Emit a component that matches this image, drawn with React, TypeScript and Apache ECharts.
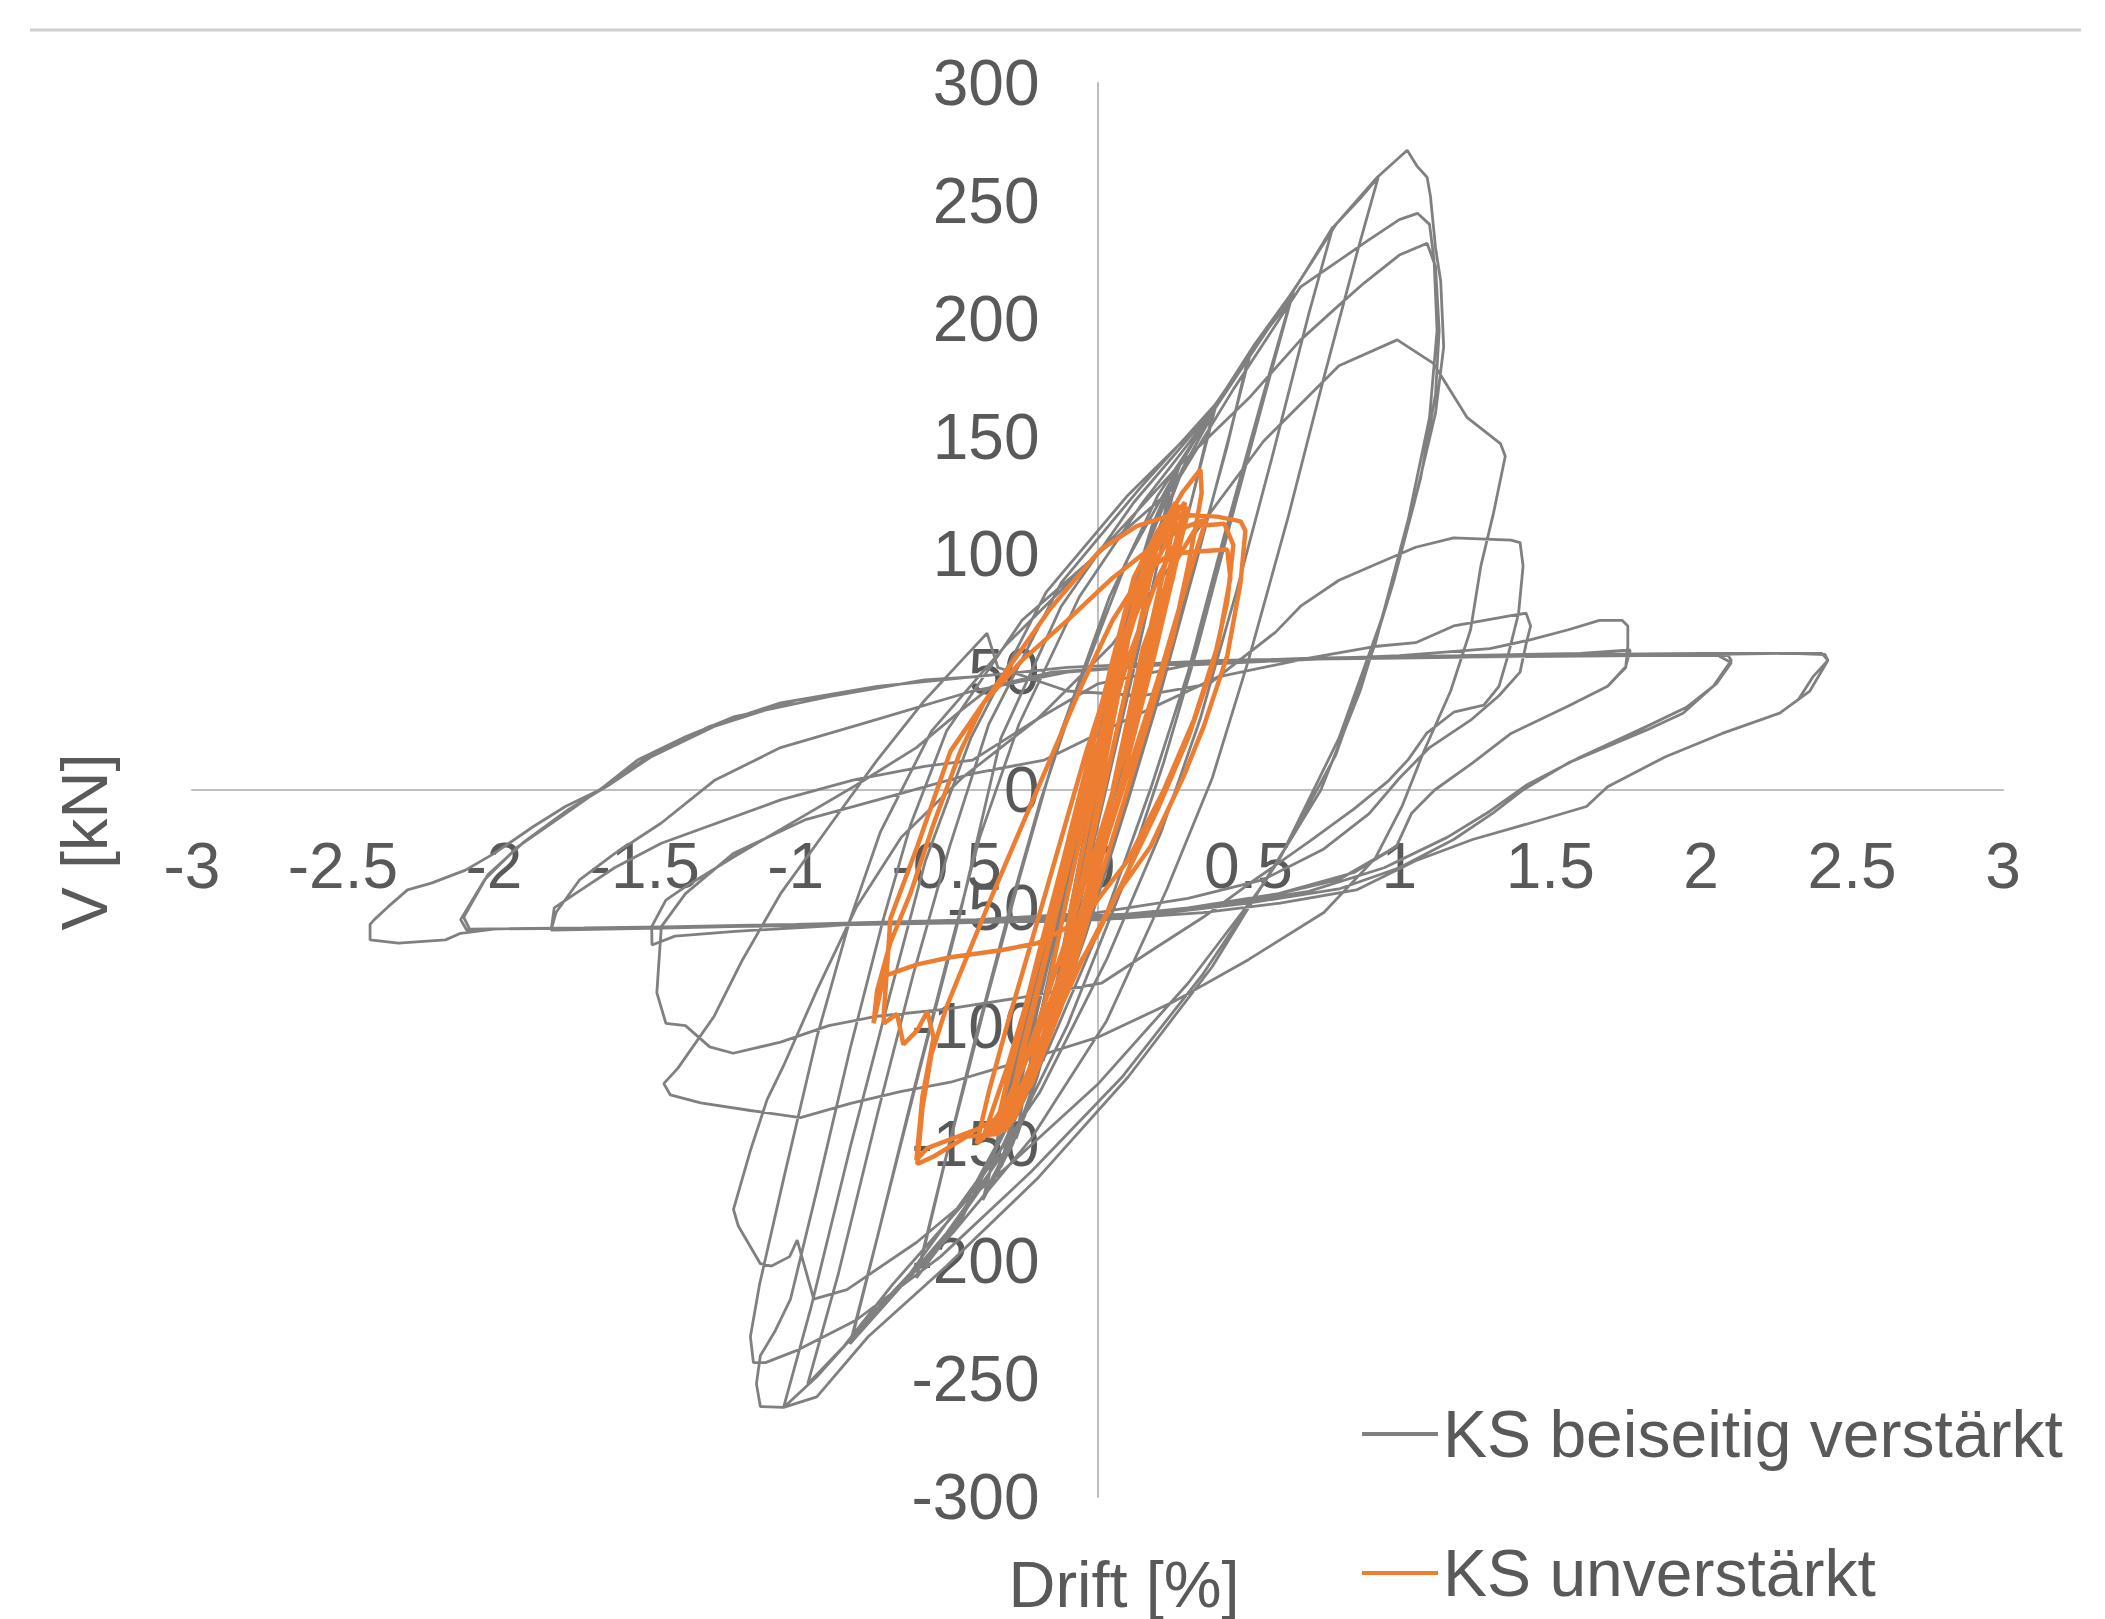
import React, { useEffect, useRef } from "react";
import * as echarts from "echarts";

const seriesNames = ["KS beiseitig verstärkt", "KS unverstärkt"];
const axisTitles = { x: "Drift [%]", y: "V [kN]" };

// KS beiseitig verstärkt — drift [%], V [kN], in test order
const grayPre1 = [[0,0],[0.03,22],[0.06,45],[0.09,62],[0.07,48],[0.03,20],[-0.02,-12],[-0.06,-42],[-0.1,-70],[-0.08,-52],[-0.04,-20],[0,8],
  [0.05,42],[0.1,72],[0.15,98],[0.12,78],[0.06,40],[0,2],[-0.06,-45],[-0.12,-85],[-0.18,-115],[-0.15,-92],[-0.09,-50],[-0.03,-10],
  [0.04,38],[0.11,80],[0.18,110],[0.25,133],[0.21,110],[0.13,62],[0.05,18],[-0.03,-30],[-0.12,-85],[-0.2,-122],[-0.27,-148],[-0.23,-120],[-0.15,-72],[-0.07,-25]];
const grayPre1b = [[0.02,30],[0.1,78],[0.18,112],[0.27,138],[0.22,108],[0.14,62],[0.06,18],[-0.03,-32],[-0.13,-90],[-0.22,-130],[-0.3,-155],[-0.25,-122],[-0.16,-72],[-0.07,-22],
  [0.0,20],[0.08,66],[0.16,102],[0.24,128],[0.2,104],[0.12,58],[0.04,12],[-0.05,-40],[-0.15,-98],[-0.24,-138],[-0.32,-160],[-0.26,-125],[-0.17,-75],[-0.08,-28]];
const grayPre2 = [[0,12],[0.08,62],[0.17,105],[0.28,140],[0.39,162],[0.33,132],[0.23,82],[0.13,32],[0.04,-10],[-0.06,-58],[-0.17,-110],[-0.28,-150],[-0.38,-174],[-0.31,-138],[-0.21,-85],[-0.11,-35],[-0.03,5],
  [0.07,55],[0.17,100],[0.28,136],[0.38,159],[0.31,122],[0.2,68],[0.1,20],[0,-28],[-0.12,-88],[-0.25,-140],[-0.37,-170],[-0.3,-130],[-0.19,-70],[-0.08,-18]];
const grayPre3 = [[0.02,28],[0.14,88],[0.27,132],[0.39,163],[0.51,187],[0.44,152],[0.33,98],[0.21,42],[0.1,-5],[-0.04,-62],[-0.2,-120],[-0.37,-166],[-0.5,-190],[-0.6,-207],[-0.52,-165],[-0.41,-108],[-0.29,-50],[-0.19,-5],
  [-0.06,45],[0.1,98],[0.26,135],[0.4,165],[0.5,184],[0.43,146],[0.31,90],[0.19,35],[0.06,-18],[-0.1,-78],[-0.28,-138],[-0.45,-182],[-0.59,-203],[-0.5,-155],[-0.38,-95],[-0.26,-38]];
const grayPre4 = [[-0.12,25],[0.04,82],[0.2,125],[0.38,160],[0.52,189],[0.65,212],[0.57,175],[0.45,118],[0.33,60],[0.22,12],[0.08,-42],[-0.1,-100],[-0.3,-152],[-0.5,-188],[-0.66,-212],[-0.82,-235],[-0.73,-190],[-0.61,-128],[-0.49,-68],[-0.39,-20],
  [-0.26,28],[-0.06,82],[0.15,122],[0.35,155],[0.5,185],[0.64,208],[0.55,168],[0.42,108],[0.3,50],[0.18,2],[0.03,-52],[-0.17,-112],[-0.4,-166],[-0.62,-205],[-0.81,-231],[-0.71,-180],[-0.58,-114],[-0.46,-55]];
const grayPre5 = [[-0.32,22],[-0.12,78],[0.12,122],[0.36,158],[0.56,195],[0.68,218],[0.78,239],[0.7,202],[0.58,142],[0.46,84],[0.34,30],[0.21,-18],[0.03,-72],[-0.19,-128],[-0.44,-175],[-0.68,-210],[-0.84,-236],[-0.96,-252],[-0.86,-206],[-0.73,-138],[-0.61,-78],[-0.49,-24]];
const grayPre6 = [[-0.36,28],[-0.12,88],[0.14,128],[0.4,165],[0.63,208],[0.79,240],[0.87,251],[0.93,260],[0.86,228],[0.75,175],[0.63,115],[0.5,55],[0.38,5],[0.23,-42],[0.03,-98],[-0.22,-148],[-0.48,-188],[-0.74,-222],[-0.93,-249],[-1.04,-262],[-0.95,-220],[-0.82,-152],[-0.69,-88],[-0.57,-30]];
const grayPeak = [[-0.42,22],[-0.17,84],[0.1,125],[0.385,161],[0.65,212],[0.783,239],[0.927,260],[1.026,271.5],[1.06,264.5],[1.092,260],[1.103,252],[1.12,230],[1.137,216],[1.147,188],[1.12,160],[1.05,122],[0.94,72],[0.8,22],[0.62,-25],[0.38,-75],[0.1,-122],[-0.2,-165],[-0.5,-202],[-0.76,-232],[-0.93,-257.5],[-1.04,-262],[-1.117,-261.6],[-1.13,-252],[-1.117,-240],[-1.07,-230],[-1.017,-216],[-0.93,-170],[-0.82,-110],[-0.71,-55],[-0.62,-15]];
const grayPost1 = [[-0.5,25],[-0.25,72],[0,100],[0.25,128],[0.45,170],[0.673,213.5],[0.815,226],[0.894,233],[1,242],[1.06,244.7],[1.1,240],[1.115,225],[1.125,195],[1.1,158],[1.03,115],[0.92,62],[0.79,15],[0.6,-30],[0.35,-78],[0.08,-122],[-0.22,-162],[-0.52,-198],[-0.8,-225],[-1,-238],[-1.1,-243],[-1.14,-243],[-1.15,-232],[-1.12,-210],[-1.04,-165],[-0.93,-105],[-0.82,-55],[-0.72,-18]];
const grayPost2 = [[-0.55,25],[-0.3,62],[0,100],[0.25,135],[0.507,167],[0.673,191],[0.794,205],[0.882,215],[1,227],[1.092,232],[1.12,222],[1.132,195],[1.12,168],[1.07,132],[0.98,88],[0.87,42],[0.74,0],[0.55,-40],[0.3,-82],[0,-125],[-0.3,-160],[-0.6,-192],[-0.83,-212],[-0.94,-216],[-0.995,-191],[-1.02,-198],[-1.08,-202],[-1.117,-201],[-1.19,-185],[-1.206,-178],[-1.15,-153],[-1.095,-131.5],[-1.04,-117],[-0.93,-85],[-0.8,-50],[-0.65,-20],[-0.45,5],[-0.2,30],[0.05,62],[0.3,105],[0.55,148],[0.8,180]];
const grayPost3 = [[0.993,191],[1.113,181],[1.225,158],[1.335,147],[1.351,141.6],[1.312,117.5],[1.27,95],[1.236,68],[1.17,42],[1.08,16],[1.01,-6.6],[0.92,-29],[0.75,-52],[0.5,-72],[0.25,-90],[0,-105],[-0.25,-115],[-0.487,-124],[-0.653,-128],[-0.818,-133],[-0.984,-139],[-1.15,-136],[-1.315,-132.8],[-1.415,-129.4],[-1.437,-124.6],[-1.39,-118],[-1.27,-96],[-1.176,-72],[-1.05,-44],[-0.89,-15.6],[-0.73,12.7],[-0.573,38],[-0.45,55],[-0.366,66.5],[-0.33,52],[-0.1,42],[0.15,40],[0.37,45]];
const grayPost4 = [[0.59,67],[0.673,78],[0.8,89],[0.926,96],[1.054,103],[1.18,107],[1.37,106],[1.4,105],[1.41,95],[1.395,75],[1.36,57],[1.33,44],[1.28,36],[1.18,33],[1.09,24],[1.03,13],[0.965,4],[0.85,-8],[0.7,-22],[0.5,-40],[0.35,-54],[0.18,-68],[0.013,-82],[-0.25,-88],[-0.5,-93],[-0.73,-96],[-0.89,-100],[-1.05,-107],[-1.207,-111.7],[-1.285,-109],[-1.365,-100],[-1.43,-99],[-1.46,-86],[-1.445,-58],[-1.365,-44],[-1.207,-27],[-0.97,-12.7],[-0.65,-1.4],[-0.414,7],[-0.176,12.7]];
const graySlide1 = [[0.1,30],[0.4,48],[0.7,56],[0.926,61],[1.054,62.5],[1.18,69.6],[1.37,74],[1.42,75],[1.435,69.6],[1.42,62],[1.4,50],[1.33,40],[1.24,30],[1.1,18],[1,5],[0.9,-10],[0.75,-25],[0.55,-38],[0.3,-46],[0,-52],[-0.4,-55],[-0.8,-57],[-1.2,-60],[-1.4,-62],[-1.476,-65.8],[-1.477,-58],[-1.43,-46.7],[-1.365,-41],[-1.2,-28],[-1,-13],[-0.8,2],[-0.6,18],[-0.45,34],[-0.35,44],[-0.15,50]];
const graySlide2 = [[0.2,53],[0.6,55],[1,57],[1.3,60],[1.43,63.6],[1.56,68],[1.663,72],[1.738,72],[1.757,69.6],[1.757,61],[1.75,52],[1.69,44],[1.56,35.6],[1.37,24],[1.243,11.5],[1.117,0],[1.04,-10],[0.99,-24],[0.85,-35],[0.6,-44],[0.3,-50],[0,-54],[-0.4,-55],[-0.9,-57],[-1.4,-58.5],[-1.81,-59.4],[-1.794,-52],[-1.715,-38],[-1.6,-27],[-1.445,-14],[-1.27,4],[-1.05,18],[-0.73,30],[-0.414,42],[-0.1,50]];
const graySlide3 = [[0.3,54],[0.7,56],[1.2,57],[1.6,58],[1.765,59.4],[1.75,52.3],[1.69,44],[1.56,35.6],[1.37,24],[1.243,11.5],[1.117,0],[1.04,-10],[0.99,-24],[0.8,-38],[0.5,-47],[0.2,-52],[-0.3,-55],[-0.9,-57],[-1.4,-58.5],[-1.81,-59.4],[-1.8,-50],[-1.73,-44],[-1.6,-33],[-1.445,-22.6],[-1.05,-4.2],[-0.81,4.2],[-0.573,10],[-0.414,12.7],[-0.2,30],[0,45]];
const graySlide4 = [[0.3,53],[0.8,56],[1.3,56.5],[1.8,57],[2.09,57],[2.1,55],[2.04,44],[1.94,32.6],[1.82,25.5],[1.56,11.5],[1.41,0],[1.31,-9.8],[1.18,-21],[1,-33],[0.8,-42],[0.5,-48],[0.1,-54],[-0.4,-55],[-1,-57],[-1.6,-58.5],[-2,-59],[-2.09,-59.4],[-2.11,-55],[-2.03,-38],[-1.92,-24],[-1.76,-9.8],[-1.635,1.4],[-1.49,14],[-1.286,26.9],[-1.05,37],[-0.73,44],[-0.414,48]];
const graySlide5 = [[-0.1,52],[0.4,55],[1,56],[1.6,57],[2.05,57.5],[2.1,54],[2.05,45],[1.95,35],[1.82,27],[1.6,14],[1.42,2],[1.3,-9],[1.16,-20],[0.95,-33],[0.7,-43],[0.4,-49],[0,-54],[-0.5,-56],[-1.1,-57.5],[-1.7,-58.5],[-2.08,-59],[-2.1,-54],[-2.02,-36],[-1.9,-22],[-1.75,-8],[-1.62,2],[-1.48,14],[-1.27,27],[-1,38],[-0.6,46],[-0.41,48]];
const graySlide6 = [[-0.1,52],[0.4,55],[1,56.5],[1.6,57],[2,57.5],[2.3,58],[2.4,58],[2.42,55],[2.36,42],[2.26,32.6],[2.07,24],[1.88,14],[1.69,1.4],[1.62,-7],[1.435,-14],[1.243,-21],[1.054,-30],[0.858,-42.4],[0.605,-48],[0.35,-52],[0.013,-55],[-0.5,-56.5],[-1,-57.5],[-1.5,-58.5],[-2,-59],[-2.11,-60.8],[-2.16,-63.6],[-2.316,-65],[-2.41,-63.6],[-2.41,-57],[-2.396,-55],[-2.35,-49.5],[-2.286,-42.4],[-2.207,-39.5],[-2.094,-34],[-2,-27],[-1.87,-15.6],[-1.763,-7],[-1.65,0],[-1.524,12.7],[-1.365,22.6],[-1.206,31],[-0.89,39.6],[-0.573,46.7],[-0.414,48]];
const grayEnd = [[-0.1,52],[0.4,55],[1,56.5],[1.6,57.5],[2,58],[2.3,58],[2.41,57.5],[2.42,55],[2.37,48],[2.32,38]];

// KS unverstärkt — drift [%], V [kN], in test order
const orange1 = [[0,0],[0.04,30],[0.08,55],[0.11,70],[0.08,48],[0.03,15],[-0.03,-25],[-0.08,-55],[-0.12,-75],[-0.09,-52],[-0.04,-20],[0,5],
  [0.06,45],[0.12,78],[0.18,100],[0.2,106],[0.16,82],[0.09,40],[0.02,0],[-0.06,-45],[-0.13,-85],[-0.19,-110],[-0.22,-118],[-0.17,-88],[-0.1,-45],[-0.03,-5]];
const orange2 = [[0.05,40],[0.13,85],[0.2,108],[0.258,122],[0.24,105],[0.18,70],[0.1,25],[0.02,-20],[-0.08,-70],[-0.18,-110],[-0.27,-135],[-0.3,-142],[-0.25,-112],[-0.17,-70],[-0.1,-30],[-0.04,5],
  [0.04,50],[0.12,90],[0.2,110],[0.27,121],[0.23,100],[0.16,60],[0.08,15],[0,-30],[-0.1,-80],[-0.2,-118],[-0.29,-140],[-0.24,-108],[-0.15,-60],[-0.08,-20]];
const orange2b = [[0.02,28],[0.11,72],[0.19,102],[0.25,116],[0.29,122],[0.25,100],[0.18,62],[0.1,22],[0.01,-22],[-0.09,-68],[-0.19,-108],[-0.28,-135],[-0.34,-146],[-0.29,-118],[-0.2,-72],[-0.11,-28],
  [-0.02,18],[0.08,62],[0.17,96],[0.24,112],[0.3,120],[0.26,96],[0.19,58],[0.11,18],[0.02,-26],[-0.08,-72],[-0.18,-112],[-0.27,-138],[-0.31,-145],[-0.25,-110],[-0.16,-64],[-0.06,-14]];
const orange3 = [[0,30],[0.1,78],[0.2,108],[0.28,126],[0.341,136],[0.345,126],[0.33,115],[0.3,95],[0.25,65],[0.17,30],[0.08,-8],[-0.02,-50],[-0.12,-92],[-0.22,-125],[-0.33,-146],[-0.432,-147],[-0.543,-155.5],[-0.597,-158.7],[-0.58,-135],[-0.55,-112],[-0.5,-92],[-0.43,-70],[-0.35,-45],[-0.25,-15],[-0.15,15],[-0.05,45],[0.05,72],[0.15,92],[0.24,100],[0.308,101],[0.43,102]];
const orange4 = [[0.44,90],[0.4,62],[0.32,30],[0.22,0],[0.1,-30],[-0.05,-55],[-0.2,-65],[-0.32,-68],[-0.487,-71],[-0.597,-74],[-0.708,-79],[-0.742,-99],[-0.73,-85],[-0.686,-64.7],[-0.62,-44],[-0.542,-14],[-0.454,16.5],[-0.377,37],[-0.266,57],[-0.156,77],[0.01,102],[0.13,112],[0.25,117],[0.397,116],[0.474,114],[0.49,110],[0.474,88],[0.43,57],[0.352,27],[0.286,6],[0.176,-24],[0.065,-44],[0,-61],[-0.113,-85],[-0.2,-111],[-0.288,-136],[-0.4,-144],[-0.564,-152],[-0.6,-157]];
const orange5 = [[-0.58,-130],[-0.543,-105],[-0.564,-94],[-0.597,-102],[-0.643,-108],[-0.664,-95],[-0.708,-99],[-0.708,-95],[-0.686,-54.5],[-0.597,-24],[-0.487,16.5],[-0.377,37],[-0.25,55],[-0.1,72],[0.05,90],[0.2,105],[0.3,112],[0.36,115],[0.3,90],[0.22,55],[0.12,15],[0.02,-25],[-0.1,-70],[-0.2,-105],[-0.3,-132],[-0.38,-148],[-0.3,-118],[-0.2,-75],[-0.1,-30],[0,10],[0.1,55],[0.2,90],[0.28,110],[0.25,90],[0.15,45],[0.05,0]];
const orange6 = [[0.15,60],[0.25,95],[0.33,112],[0.42,113],[0.45,104],[0.43,80],[0.38,52],[0.3,22],[0.2,-8],[0.08,-40],[-0.05,-72],[-0.15,-100],[-0.25,-126],[-0.34,-143],[-0.4,-150],[-0.36,-128],[-0.3,-100],[-0.22,-65],[-0.13,-25],[-0.04,15],[0.06,55],[0.16,88],[0.24,108],[0.3,118],[0.26,98],[0.18,60],[0.1,20],[0,-22],[-0.1,-62],[-0.2,-100],[-0.28,-128],[-0.33,-140],[-0.27,-110],[-0.18,-65],[-0.08,-18],[0.02,28],[0.12,72],[0.2,100]];

const grayData = [...grayPre1, ...grayPre1b, ...grayPre2, ...grayPre3, ...grayPre4, ...grayPre5, ...grayPre6, ...grayPeak,
  ...grayPost1, ...grayPost2, ...grayPost3, ...grayPost4, ...graySlide1, ...graySlide2, ...graySlide3,
  ...graySlide4, ...graySlide5, ...graySlide6, ...grayEnd];
const orangeData = [...orange1, ...orange2, ...orange2b, ...orange3, ...orange4, ...orange5, ...orange6];

const FONT = "'Liberation Sans', Arial, sans-serif";
const TEXT = "#595959";
const GRAY = "#808080";
const ORANGE = "#ED7D31";

// plot box: x -3..3 over 192..2003, y 300..-300 over 83..1497
const GRID = { left: 192, right: 102, top: 83, bottom: 122 };

export default function App() {
  const ref = useRef<HTMLDivElement>(null);
  useEffect(() => {
    const chart = echarts.init(ref.current!, null, { renderer: "svg" });
    const gw = 2105 - GRID.left - GRID.right;
    const gh = 1619 - GRID.top - GRID.bottom;
    chart.setOption({
      animation: false,
      backgroundColor: "#ffffff",
      grid: { ...GRID, containLabel: false },
      xAxis: {
        type: "value", min: -3, max: 3, interval: 0.5, position: "bottom",
        offset: -gh / 2,
        axisLine: { show: true, onZero: false, lineStyle: { color: "#BFBFBF", width: 2 } },
        axisTick: { show: false }, splitLine: { show: false },
        axisLabel: { fontSize: 64, color: TEXT, fontFamily: FONT, margin: 44, hideOverlap: false },
      },
      yAxis: {
        type: "value", min: -300, max: 300, interval: 50, position: "left",
        offset: -gw / 2,
        axisLine: { show: true, onZero: false, lineStyle: { color: "#BFBFBF", width: 2 } },
        axisTick: { show: false }, splitLine: { show: false },
        axisLabel: { fontSize: 64, color: TEXT, fontFamily: FONT, margin: 58, hideOverlap: false },
      },
      legend: {
        orient: "vertical", left: 1357, top: 1396, itemWidth: 76, itemHeight: 4, itemGap: 73,
        textStyle: { fontSize: 66, color: TEXT, fontFamily: FONT, lineHeight: 66 },
        data: [
          { name: seriesNames[0], icon: "rect", itemStyle: { color: GRAY } },
          { name: seriesNames[1], icon: "rect", itemStyle: { color: ORANGE } },
        ],
      },
      series: [
        { name: seriesNames[0], type: "line", data: grayData, symbol: "none", showSymbol: false,
          lineStyle: { color: GRAY, width: 2.8 }, itemStyle: { color: GRAY } },
        { name: seriesNames[1], type: "line", data: orangeData, symbol: "none", showSymbol: false,
          lineStyle: { color: ORANGE, width: 4.5 }, itemStyle: { color: ORANGE } },
      ],
      graphic: [
        { type: "line", shape: { x1: 30, y1: 30, x2: 2081, y2: 30 }, style: { stroke: "#D0D0D0", lineWidth: 3 } },
        { type: "text", x: 84, y: 842, rotation: Math.PI / 2,
          style: { text: axisTitles.y, fontSize: 65, fontFamily: FONT, fill: TEXT, align: "center", verticalAlign: "middle" } },
        { type: "text", x: 1124, y: 1584,
          style: { text: axisTitles.x, fontSize: 65, fontFamily: FONT, fill: TEXT, align: "center", verticalAlign: "middle" } },
      ],
    });
    return () => chart.dispose();
  }, []);
  return <div ref={ref} style={{ position: "absolute", left: 0, top: 0, width: 2105, height: 1619 }} />;
}
